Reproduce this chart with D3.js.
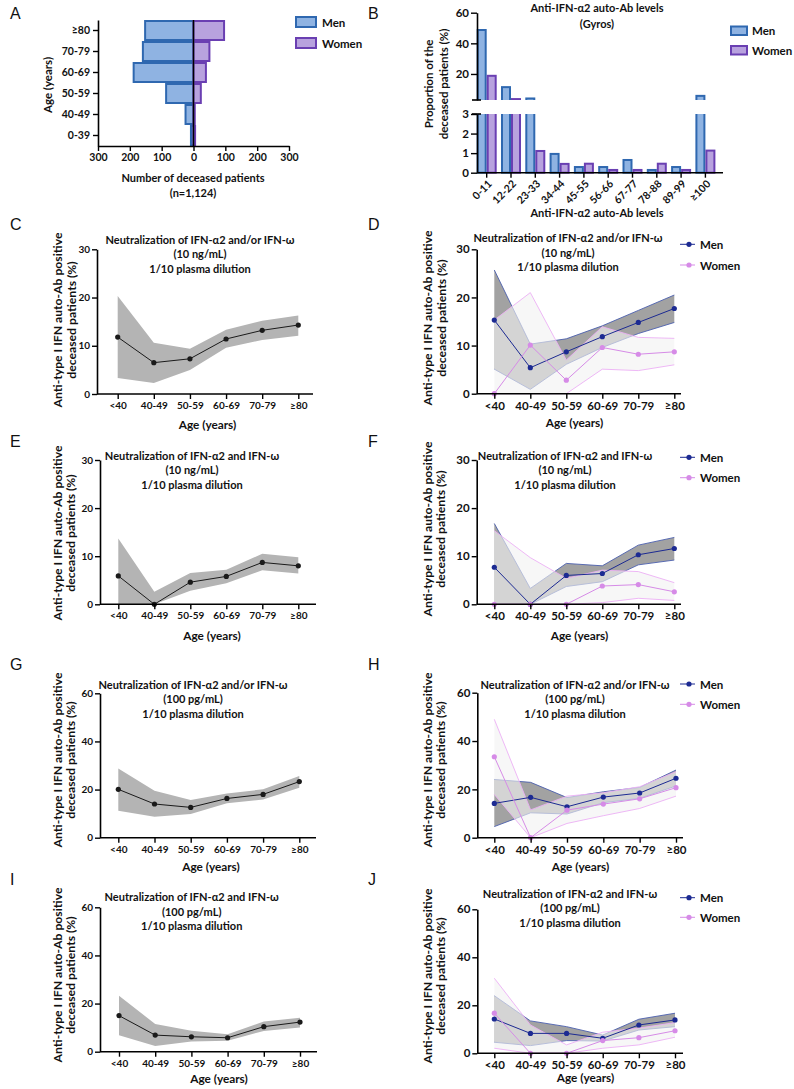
<!DOCTYPE html>
<html><head><meta charset="utf-8">
<script src="https://cdn.jsdelivr.net/npm/d3@7/dist/d3.min.js"></script>
<style>
body{margin:0;background:#fff;}
svg text{font-family:Lato,'Open Sans',sans-serif;font-weight:700;fill:#111;}
.plabel{font-family:'Liberation Sans',Arial,sans-serif !important;font-weight:400 !important;font-size:16px;}
</style></head><body>
<svg id="fig" width="794" height="1089" xmlns="http://www.w3.org/2000/svg"></svg>
<script>
// ---------------- DATA ----------------
// Panel A
const aAgeGroups = ["0-39","40-49","50-59","60-69","70-79","≥80"];
const aMen   = [8, 25, 86, 188, 159, 152];
const aWomen = [5, 4, 23, 39, 50, 96];
const aTicks = [-300,-200,-100,0,100,200,300];
// Panel B
const bCategories = ["0-11","12-22","23-33","34-44","45-55","56-66","67-77","78-88","89-99","≥100"];
const bMen   = [48.7, 11.4, 4.0, 0.96, 0.29, 0.29, 0.65, 0.14, 0.29, 5.7];
const bWomen = [18.8, 3.6, 1.11, 0.45, 0.46, 0.14, 0.14, 0.46, 0.14, 1.13];
const bUpperTicks = [20, 40, 60];
const bLowerTicks = [0, 1, 2, 3];
// Line panels
const ageGroups = ["<40","40-49","50-59","60-69","70-79","≥80"];
const ticks30 = [0, 10, 20, 30];
const ticks60 = [0, 20, 40, 60];
// C
const cMean = [11.8, 6.5, 7.3, 11.4, 13.2, 14.3];
const cLow  = [3.3, 2.3, 5.0, 9.6, 11.2, 12.1];
const cHigh = [20.3, 10.6, 9.4, 13.3, 15.2, 16.3];
// D
const dMenMean = [15.3, 5.4, 8.7, 11.85, 14.8, 17.7];
const dMenLow  = [5.1, 0.9, 6.1, 9.6, 12.5, 14.8];
const dMenHigh = [25.7, 10.3, 11.4, 14.1, 17.3, 20.5];
const dWomenMean = [0, 10.1, 2.8, 9.6, 8.2, 8.7];
const dWomenLow  = [0, 0, 0, 5.1, 4.8, 6.0];
const dWomenHigh = [15.3, 21.0, 7.0, 13.9, 11.7, 11.5];
// E
const eMean = [5.9, 0, 4.6, 5.8, 8.7, 8.0];
const eLow  = [0, 0, 2.8, 4.4, 7.1, 6.4];
const eHigh = [13.7, 2.6, 6.5, 7.2, 10.5, 9.8];
// F
const fMenMean = [7.7, 0, 6.0, 6.4, 10.3, 11.6];
const fMenLow  = [0, 0, 3.7, 4.7, 8.2, 9.2];
const fMenHigh = [16.8, 3.3, 8.5, 8.0, 12.3, 13.9];
const fWomenMean = [0, 0, 0, 3.8, 4.1, 2.6];
const fWomenLow  = [0, 0, 0, 0.35, 1.25, 0.8];
const fWomenHigh = [15.3, 9.7, 5.4, 7.1, 6.8, 4.5];
// G
const gMean = [20.1, 14.0, 12.6, 16.3, 18.0, 23.3];
const gLow  = [11.2, 8.7, 9.8, 14.3, 15.9, 20.8];
const gHigh = [28.8, 19.5, 15.7, 18.4, 20.1, 25.6];
// H
const hMenMean = [14.2, 16.7, 12.8, 16.8, 18.5, 24.6];
const hMenLow  = [4.6, 10.3, 9.8, 14.5, 16.3, 21.4];
const hMenHigh = [24.1, 22.9, 16.6, 19.0, 20.8, 28.0];
const hWomenMean = [33.5, 0, 11.4, 13.9, 16.1, 20.7];
const hWomenLow  = [17.9, 0, 5.9, 9.1, 12.1, 17.2];
const hWomenHigh = [49.0, 11.5, 17.2, 18.6, 21.1, 27.3];
// I
const iMean = [15.0, 6.9, 6.2, 5.8, 10.4, 12.3];
const iLow  = [6.8, 2.4, 4.2, 4.6, 8.6, 10.1];
const iHigh = [23.3, 11.5, 8.7, 7.3, 12.5, 14.1];
// J
const jMenMean = [14.3, 8.3, 8.3, 6.25, 11.8, 13.9];
const jMenLow  = [4.6, 3.2, 5.3, 5.1, 9.7, 11.1];
const jMenHigh = [24.0, 13.5, 11.1, 7.6, 14.2, 16.7];
const jWomenMean = [16.7, 0, 0, 5.3, 6.5, 9.4];
const jWomenLow  = [2.1, 0, 0, 2.1, 3.5, 6.7];
const jWomenHigh = [31.3, 11.8, 3.5, 8.8, 10.5, 12.8];

const titleAndOr = "Neutralization of IFN-α2 and/or IFN-ω";
const titleAnd = "Neutralization of IFN-α2 and IFN-ω";

// ---------------- STYLE ----------------
const menFill = "#8fb3e2", menStroke = "#2f68b0";
const womenFill = "#b8a2de", womenStroke = "#6a3fb2";
const menLine = "#1c2a92", womenLine = "#d68be7";

const svg = d3.select("#fig");

function styleAxis(sel, fs) {
  sel.select(".domain").attr("stroke", "#000").attr("stroke-width", 1.6);
  sel.selectAll(".tick line").attr("stroke", "#000").attr("stroke-width", 1.4);
  sel.selectAll(".tick text").attr("font-size", fs).attr("fill", "#111")
     .attr("font-family", "Lato,'Open Sans',sans-serif").attr("font-weight", 700);
}
function txt(g, x, y, s, fs, anchor) {
  return g.append("text").attr("x", x).attr("y", y).attr("dominant-baseline", "central")
    .attr("text-anchor", anchor || "middle").attr("font-size", fs).text(s);
}
function vtxt(g, x, y, s, fs) {
  return g.append("text").attr("transform", `translate(${x},${y}) rotate(-90)`)
    .attr("dominant-baseline", "central").attr("text-anchor", "middle").attr("font-size", fs).text(s);
}

// ---------------- PANEL LETTERS ----------------
const letters = [["A",10,19],["B",368,19],["C",10,230],["D",368,230],["E",10,447],["F",368,447],["G",10,670],["H",368,670],["I",10,885],["J",368,885]];
letters.forEach(([l, x, y]) => svg.append("text").attr("class", "plabel").attr("x", x).attr("y", y).text(l));

// ---------------- PANEL A ----------------
(function() {
  const g = svg.append("g");
  const x = d3.scaleLinear().domain([-300, 300]).range([98, 289]);
  const y = d3.scaleBand().domain(aAgeGroups.slice().reverse()).range([20, 146]).padding(0);
  g.selectAll(".am").data(aAgeGroups).join("rect")
    .attr("x", (d, i) => x(-aMen[i])).attr("y", d => y(d) + 1)
    .attr("width", (d, i) => x(0) - x(-aMen[i])).attr("height", y.bandwidth() - 2)
    .attr("fill", menFill).attr("stroke", menStroke).attr("stroke-width", 2);
  g.selectAll(".aw").data(aAgeGroups).join("rect")
    .attr("x", x(0)).attr("y", d => y(d) + 1)
    .attr("width", (d, i) => x(aWomen[i]) - x(0)).attr("height", y.bandwidth() - 2)
    .attr("fill", womenFill).attr("stroke", womenStroke).attr("stroke-width", 2);
  g.append("line").attr("x1", x(0)).attr("x2", x(0)).attr("y1", 20).attr("y2", 146)
    .attr("stroke", "#000").attr("stroke-width", 1.5);
  g.append("g").attr("transform", "translate(0,146)")
    .call(d3.axisBottom(x).tickValues(aTicks).tickFormat(d => Math.abs(d)).tickSize(5).tickSizeOuter(0).tickPadding(3))
    .call(styleAxis, 10.5);
  g.append("g").attr("transform", "translate(98,0)")
    .call(d3.axisLeft(y).tickSize(5).tickSizeOuter(0).tickPadding(3))
    .call(styleAxis, 10.5);
  txt(g, 193, 177, "Number of deceased patients", 11);
  txt(g, 193, 192, "(n=1,124)", 11);
  vtxt(g, 47, 85, "Age (years)", 11.5);
  g.append("rect").attr("x", 296).attr("y", 17).attr("width", 20).attr("height", 10)
    .attr("fill", menFill).attr("stroke", menStroke).attr("stroke-width", 2);
  g.append("rect").attr("x", 296).attr("y", 38).attr("width", 20).attr("height", 10)
    .attr("fill", womenFill).attr("stroke", womenStroke).attr("stroke-width", 2);
  txt(g, 322, 22, "Men", 11.5, "start");
  txt(g, 322, 43, "Women", 11.5, "start");
})();

// ---------------- PANEL B ----------------
(function() {
  const g = svg.append("g");
  const ax = 477, yBase = 172.7, brkU = 100, brkL = 114;
  const yU = d3.scaleLinear().domain([3, 60]).range([brkU, 12.7]);
  const yL = d3.scaleLinear().domain([0, 3]).range([yBase, brkL]);
  const x = d3.scaleBand().domain(bCategories).range([476.7, 715.4]).paddingInner(0.177).paddingOuter(0);
  const defs = svg.append("defs");
  defs.append("clipPath").attr("id", "clipU").append("rect").attr("x", 470).attr("y", 0).attr("width", 260).attr("height", brkU);
  defs.append("clipPath").attr("id", "clipL").append("rect").attr("x", 470).attr("y", brkL).attr("width", 260).attr("height", 70);
  const half = x.bandwidth() / 2;
  const series = [[bMen, 0, menFill, menStroke], [bWomen, 1, womenFill, womenStroke]];
  const gu = g.append("g").attr("clip-path", "url(#clipU)");
  const gl = g.append("g").attr("clip-path", "url(#clipL)");
  series.forEach(([vals, k, fill, stroke]) => {
    gu.selectAll(null).data(bCategories.filter((c, i) => vals[i] > 3)).join("rect")
      .attr("x", c => x(c) + k * half + 1).attr("width", half - 2)
      .attr("y", c => yU(vals[bCategories.indexOf(c)]))
      .attr("height", c => brkU + 5 - yU(vals[bCategories.indexOf(c)]))
      .attr("fill", fill).attr("stroke", stroke).attr("stroke-width", 2);
    gl.selectAll(null).data(bCategories).join("rect")
      .attr("x", c => x(c) + k * half + 1).attr("width", half - 2)
      .attr("y", (c, i) => vals[i] > 3 ? brkL - 6 : yL(vals[i]))
      .attr("height", (c, i) => yBase - (vals[i] > 3 ? brkL - 6 : yL(vals[i])))
      .attr("fill", fill).attr("stroke", stroke).attr("stroke-width", 2);
  });
  g.append("g").attr("transform", `translate(${ax},0)`)
    .call(d3.axisLeft(yU).tickValues(bUpperTicks).tickFormat(d3.format("d")).tickSize(6).tickSizeOuter(0).tickPadding(2)).call(styleAxis, 11.5);
  g.append("g").attr("transform", `translate(${ax},0)`)
    .call(d3.axisLeft(yL).tickValues(bLowerTicks).tickFormat(d3.format("d")).tickSize(6).tickSizeOuter(0).tickPadding(2)).call(styleAxis, 11.5);
  [brkU, brkL].forEach(yy => g.append("line").attr("x1", ax - 5).attr("x2", ax + 4).attr("y1", yy).attr("y2", yy)
    .attr("stroke", "#000").attr("stroke-width", 1.6));
  g.append("line").attr("x1", ax).attr("x2", 723).attr("y1", yBase).attr("y2", yBase).attr("stroke", "#000").attr("stroke-width", 1.6);
  bCategories.forEach(c => {
    const cx = x(c) + half;
    g.append("line").attr("x1", cx).attr("x2", cx).attr("y1", yBase).attr("y2", yBase + 5).attr("stroke", "#000").attr("stroke-width", 1.4);
    g.append("text").attr("transform", `translate(${cx + 3},${yBase + 9}) rotate(-45)`)
      .attr("text-anchor", "end").attr("dominant-baseline", "central").attr("font-size", 10.5).text(c);
  });
  txt(g, 597, 7.5, "Anti-IFN-α2 auto-Ab levels", 11);
  txt(g, 597, 23, "(Gyros)", 11);
  txt(g, 597, 212, "Anti-IFN-α2 auto-Ab levels", 11);
  vtxt(g, 428, 84, "Proportion of the", 11.5);
  vtxt(g, 443, 84, "deceased patients (%)", 11.5);
  g.append("rect").attr("x", 731).attr("y", 26.5).attr("width", 16).attr("height", 8.5)
    .attr("fill", menFill).attr("stroke", menStroke).attr("stroke-width", 2);
  g.append("rect").attr("x", 731).attr("y", 46).attr("width", 16).attr("height", 8.5)
    .attr("fill", womenFill).attr("stroke", womenStroke).attr("stroke-width", 2);
  txt(g, 752, 30.7, "Men", 11.5, "start");
  txt(g, 752, 50, "Women", 11.5, "start");
})();

// ---------------- LINE PANELS ----------------
function linePanel(L, series) {
  const g = svg.append("g");
  const y = d3.scaleLinear().domain([0, L.ymax]).range([L.y0, L.ytop]);
  const x = d3.scalePoint().domain(ageGroups).range([L.x0, L.x1]);
  const area = (lo, hi) => d3.area().x(d => x(d)).y0((d, i) => y(lo[i])).y1((d, i) => y(hi[i]))(ageGroups);
  const line = vals => d3.line().x(d => x(d)).y((d, i) => y(vals[i]))(ageGroups);
  series.forEach(s => {
    g.append("path").attr("d", area(s.low, s.high)).attr("fill", s.band).attr("stroke", "none");
    if (s.border) {
      [s.low, s.high].forEach(v => g.append("path").attr("d", line(v)).attr("fill", "none")
        .attr("stroke", s.border).attr("stroke-width", 0.9));
    }
  });
  series.forEach(s => {
    g.append("path").attr("d", line(s.mean)).attr("fill", "none").attr("stroke", s.color).attr("stroke-width", 1);
    g.selectAll(null).data(ageGroups).join("circle")
      .attr("cx", d => x(d)).attr("cy", (d, i) => y(s.mean[i])).attr("r", 2.6).attr("fill", s.color);
  });
  g.append("g").attr("transform", `translate(${L.ax},0)`)
    .call(d3.axisLeft(y).tickValues(L.ticks).tickSize(5).tickSizeOuter(0).tickPadding(2))
    .call(styleAxis, L.fs);
  const xa = g.append("g").attr("transform", `translate(0,${L.y0})`)
    .call(d3.axisBottom(x).tickSize(5).tickSizeOuter(0).tickPadding(3))
    .call(styleAxis, L.fs);
  xa.select(".domain").remove();
  g.append("line").attr("x1", L.ax).attr("x2", L.xend).attr("y1", L.y0).attr("y2", L.y0)
    .attr("stroke", "#000").attr("stroke-width", 1.6);
  L.title.forEach((t, i) => txt(g, L.tx, L.ty + i * 14.5, t, 11));
  txt(g, L.xlx, L.xly, "Age (years)", 11.8);
  vtxt(g, L.ylx[0], L.yly, "Anti-type I IFN auto-Ab positive", 12.2);
  vtxt(g, L.ylx[1], L.yly, "deceased patients (%)", 12.2);
  if (L.legend) {
    [["Men", menLine, L.legend[0]], ["Women", womenLine, L.legend[1]]].forEach(([name, col, ly]) => {
      g.append("line").attr("x1", 680).attr("x2", 695).attr("y1", ly).attr("y2", ly).attr("stroke", col).attr("stroke-width", 1);
      g.append("circle").attr("cx", 689).attr("cy", ly).attr("r", 2.6).attr("fill", col);
      txt(g, 700, ly, name, 11.5, "start");
    });
  }
}

const single = (mean, low, high) => [{ mean, low, high, color: "#1a1a1a", band: "#b4b4b4", border: null }];
const dual = (mm, ml, mh, wm, wl, wh) => [
  { mean: mm, low: ml, high: mh, color: menLine, band: "#a2a2a2", border: "#4b5fae" },
  { mean: wm, low: wl, high: wh, color: womenLine, band: "rgba(242,242,242,0.62)", border: "#ecb0f5" }
];
const sub10 = "(10 ng/mL)", sub100 = "(100 pg/mL)", dil = "1/10 plasma dilution";

linePanel({ ax: 97, y0: 394, ytop: 249.3, x0: 117.7, x1: 298.3, xend: 313, ymax: 30, ticks: ticks30, fs: 10,
  title: [titleAndOr, sub10, dil], tx: 200, ty: 239, xlx: 207.5, xly: 424, ylx: [57.5, 71], yly: 320 },
  single(cMean, cLow, cHigh));
linePanel({ ax: 476.7, y0: 393.7, ytop: 249.3, x0: 494.3, x1: 674.3, xend: 681, ymax: 30, ticks: ticks30, fs: 11.5,
  title: [titleAndOr, sub10, dil], tx: 568, ty: 237.7, xlx: 574.5, xly: 422, ylx: [427.5, 441], yly: 318, legend: [244.3, 265] },
  dual(dMenMean, dMenLow, dMenHigh, dWomenMean, dWomenLow, dWomenHigh));
linePanel({ ax: 100, y0: 604.3, ytop: 460, x0: 118.3, x1: 298.3, xend: 316, ymax: 30, ticks: ticks30, fs: 10,
  title: [titleAnd, sub10, dil], tx: 192, ty: 455, xlx: 212, xly: 635, ylx: [57.3, 70.7], yly: 533 },
  single(eMean, eLow, eHigh));
linePanel({ ax: 476.7, y0: 604.3, ytop: 460, x0: 494.3, x1: 674.3, xend: 681, ymax: 30, ticks: ticks30, fs: 11.5,
  title: [titleAnd, sub10, dil], tx: 565, ty: 455, xlx: 579.5, xly: 635, ylx: [427.3, 440], yly: 529, legend: [457.3, 477.7] },
  dual(fMenMean, fMenLow, fMenHigh, fWomenMean, fWomenLow, fWomenHigh));
linePanel({ ax: 100, y0: 837.7, ytop: 693.3, x0: 118.3, x1: 299.3, xend: 316, ymax: 60, ticks: ticks60, fs: 10,
  title: [titleAndOr, sub100, dil], tx: 193, ty: 684, xlx: 211, xly: 866.7, ylx: [57.3, 70.7], yly: 760 },
  single(gMean, gLow, gHigh));
linePanel({ ax: 477.3, y0: 837.7, ytop: 692.7, x0: 494.3, x1: 676, xend: 683, ymax: 60, ticks: ticks60, fs: 11.5,
  title: [titleAndOr, sub100, dil], tx: 575, ty: 684, xlx: 580.5, xly: 866.7, ylx: [427.3, 440], yly: 760, legend: [684, 704.3] },
  dual(hMenMean, hMenLow, hMenHigh, hWomenMean, hWomenLow, hWomenHigh));
linePanel({ ax: 100, y0: 1051.7, ytop: 907.3, x0: 119, x1: 300, xend: 317, ymax: 60, ticks: ticks60, fs: 10,
  title: [titleAnd, sub100, dil], tx: 191.7, ty: 896.7, xlx: 219, xly: 1078.3, ylx: [57.3, 70.7], yly: 975 },
  single(iMean, iLow, iHigh));
linePanel({ ax: 477.3, y0: 1053.3, ytop: 909.3, x0: 494.3, x1: 675, xend: 683, ymax: 60, ticks: ticks60, fs: 11.5,
  title: [titleAnd, sub100, dil], tx: 570, ty: 893.3, xlx: 585.5, xly: 1077, ylx: [427.3, 440], yly: 976, legend: [897.7, 917.3] },
  dual(jMenMean, jMenLow, jMenHigh, jWomenMean, jWomenLow, jWomenHigh));
</script></body></html>
